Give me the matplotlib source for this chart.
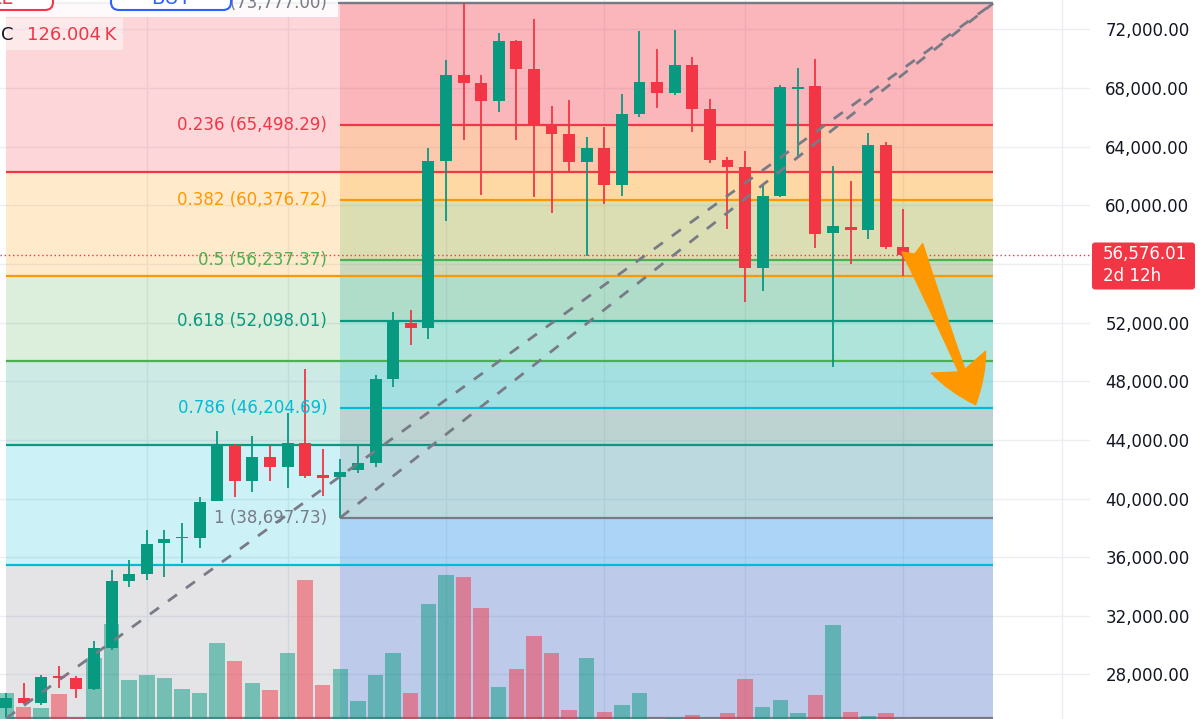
import numpy as np
import matplotlib.pyplot as plt
from matplotlib.patches import FancyBboxPatch, Rectangle
from matplotlib.transforms import IdentityTransform

plt.rcParams['font.family'] = ['DejaVu Sans']

# weekly BTC candles
opens = [25692, 26374, 26033, 27875, 27739, 26988, 29784, 34354, 34831, 36945,
         37286, 37286, 39810, 43629, 41174, 42811, 42129, 43765, 41583, 41447,
         41924, 42402, 48181, 51950, 51609, 63000, 68863, 68317, 67090, 71182,
         69272, 65521, 64839, 62929, 63885, 61361, 66203, 68386, 67635, 69545,
         66544, 63066, 62589, 55700, 60611, 67950, 68113, 58087, 58497, 58292,
         64089, 57133]
highs = [26715, 27397, 27943, 28557, 27875, 30262, 35104, 35786, 37832, 37832,
         38309, 40083, 44584, 43700, 44243, 43629, 45811, 48812, 43356, 42674,
         43697, 48403, 52700, 52836, 63885, 69886, 73777, 68863, 71727, 71300,
         72682, 66749, 67158, 64635, 65317, 67567, 71864, 70636, 71932, 70091,
         67226, 63271, 63680, 61361, 68181, 69340, 69954, 62657, 61634, 64907,
         64293, 59724]
lows = [25000, 25965, 25897, 27056, 26374, 26920, 29648, 33944, 34422, 34627,
        35581, 36604, 39810, 40083, 40424, 41174, 40696, 41379, 40151, 38697.73,
        41720, 42129, 47584, 50450, 50859, 58906, 64430, 60679, 66340, 64430,
        60543, 59451, 62248, 56519, 60065, 60611, 65999, 66612, 67499, 64976,
        62900, 58360, 53382, 54132, 60543, 63271, 57064, 48947, 55973, 57678,
        57000, 55155]
closes = [26374, 26033, 27807, 27739, 26988, 29784, 34354, 34831, 36877, 37218,
          37355, 39742, 43561, 41174, 42811, 42129, 43765, 41515, 41379, 41788,
          42402, 48181, 52018, 51609, 63000, 68863, 68317, 67090, 71182, 69272,
          65385, 64839, 62929, 63885, 61361, 66203, 68386, 67635, 69545, 66544,
          63066, 62589, 55700, 60611, 68045, 68050, 58019, 58565, 58292, 64089,
          57133, 56576.01]
volumes = [26, 12, 11, 25, 1, 61, 95, 39, 44, 41, 30, 26, 76, 58, 36, 29, 66, 139,
           34, 50, 18, 44, 66, 26, 115, 144, 142, 111, 32, 50, 83, 66, 9, 61, 7,
           14, 26, 0.5, 1.5, 4, 0.5, 6, 40, 12, 19, 6, 24, 94, 7, 3, 6, 0]

fib_ratios = [0, 0.236, 0.382, 0.5, 0.618, 0.786, 1, 1.618]
fib_colors = ['#787b86', '#f23645', '#ff9800', '#4caf50', '#089981',
              '#00bcd4', '#787b86', '#2962ff']
fib_high = 73777.00
fib_end = 56.1          # right edge of both fib drawings (bar index)
month_bars = [8, 16, 25, 34, 42, 51, 60]

GREEN = '#089981'
RED = '#f23645'

fig = plt.figure(figsize=(12, 7.19), dpi=100)
ax = fig.add_axes([0, 0, 1090 / 1200, 1])
ymin, ymax = 24964, 74000
ax.set_xlim(-0.34, 61.6)
ax.set_ylim(ymin, ymax)

x = np.arange(len(closes))
up = np.array(closes) >= np.array(opens)


def draw_fib(x0, p_low, labels=False):
    rng = fib_high - p_low
    levels = [fib_high - r * rng for r in fib_ratios]
    for i in range(1, len(levels)):
        ax.fill_between([x0, fib_end], levels[i], levels[i - 1],
                        color=fib_colors[i], alpha=0.2, lw=0, zorder=1)
    for r, lev, c in zip(fib_ratios, levels, fib_colors):
        ax.hlines(lev, x0, fib_end, color=c, lw=1.6, zorder=2)
        if labels and r <= 1:
            ax.annotate(f"{r:g} ({lev + 1e-6:,.2f})", xy=(x0, lev),
                        xytext=(-9.5, 0), textcoords='offset points',
                        ha='right', va='center', color=c, fontsize=12,
                        zorder=7)
    # dashed trend line of the drawing
    ax.plot([x0, fib_end], [p_low, fib_high], color='#787b86', lw=2,
            ls=(0, (4, 4)), zorder=6)


# outer fib from the first candle low, inner fib from the January low
draw_fib(0, lows[0])
draw_fib(19, lows[19], labels=True)

# volume overlay, scaled into the bottom of the price pane
vol_scale = (ymax - ymin) / (max(volumes) * 5)
ax.bar(x, np.array(volumes) * vol_scale, bottom=ymin, width=0.88,
       color=[GREEN if u else RED for u in up], alpha=0.5, lw=0, zorder=3)

# candles
cols = [GREEN if u else RED for u in up]
ax.vlines(x, lows, highs, colors=cols, lw=1.3, zorder=4)
body_lo = np.minimum(opens, closes)
body_h = np.maximum(np.abs(np.array(closes) - np.array(opens)), 90)
ax.bar(x, body_h, bottom=body_lo, width=0.68, color=cols, lw=0, zorder=5)

# last price line
last = closes[-1]
ax.axhline(last, color=RED, lw=1, ls=(0, (1, 2)), zorder=3)

# projected move
ax.annotate('', xy=(55.1, 46400), xytext=(51.5, 57100),
            arrowprops=dict(arrowstyle='fancy,head_length=0.55,head_width=0.7,'
                                       'tail_width=0.27',
                            color='#ff9800', mutation_scale=60,
                            shrinkA=0, shrinkB=0), zorder=8)

# axes styling
for s in ax.spines.values():
    s.set_visible(False)
ax.yaxis.tick_right()
ax.set_yticks(np.arange(28000, 72001, 4000))
ax.set_yticklabels([f"{v:,.2f}" for v in np.arange(28000, 72001, 4000)],
                   fontsize=12, color='#131722')
ax.tick_params(axis='y', length=0, pad=11)
ax.set_xticks(month_bars)
ax.set_xticklabels([])
ax.tick_params(axis='x', length=0)
ax.grid(color='#eceef3', lw=1)
ax.set_axisbelow(True)

H = 719
px = IdentityTransform()

# last price tag on the price scale
py = ax.transData.transform((0, last))[1]
fig.add_artist(FancyBboxPatch((1092, py - 34), 103, 47,
                              boxstyle='round,pad=0,rounding_size=3',
                              transform=px, fc=RED, ec='none', zorder=10))
fig.text(1103 / 1200, (py + 1.5) / H, f"{last:,.2f}", ha='left', va='center',
         fontsize=12, color='white', zorder=11)
fig.text(1103 / 1200, (py - 21) / H, "2d 12h", ha='left', va='center',
         fontsize=12, color='white', zorder=11)

# toolbar overlay in the top-left corner (pixel coordinates)
fig.add_artist(Rectangle((0, H - 17), 338, 20, transform=px, fc='white',
                         ec='none', alpha=0.9, zorder=10))
fig.text(327 / 1200, 1 - 3 / H, f"0 ({fib_high:,.2f})", ha='right',
         va='center', fontsize=12, color='#787b86', zorder=11)
fig.add_artist(FancyBboxPatch((-60, H - 10), 113, 40,
                              boxstyle='round,pad=0,rounding_size=8',
                              transform=px, fc='white', ec=RED, lw=1.5,
                              zorder=12))
fig.text(13 / 1200, 1 - 4 / H, "SELL", ha='right', va='baseline', fontsize=14,
         color=RED, zorder=13)
fig.add_artist(FancyBboxPatch((111, H - 10), 120, 40,
                              boxstyle='round,pad=0,rounding_size=8',
                              transform=px, fc='white', ec='#2962ff', lw=1.5,
                              zorder=12))
fig.text(171 / 1200, 1 - 4 / H, "BUY", ha='center', va='baseline',
         fontsize=14, color='#2962ff', zorder=13)
fig.add_artist(Rectangle((0, H - 50), 123, 32, transform=px, fc='white',
                         ec='none', alpha=0.45, zorder=10))
fig.text(0.5 / 1200, 1 - 35 / H, "C", ha='left', va='center', fontsize=13,
         color='#131722', zorder=11)
fig.text(27 / 1200, 1 - 35 / H, "126.004\u2009K", ha='left', va='center',
         fontsize=13, color=RED, zorder=11)

fig.savefig('out.png', dpi=100)
